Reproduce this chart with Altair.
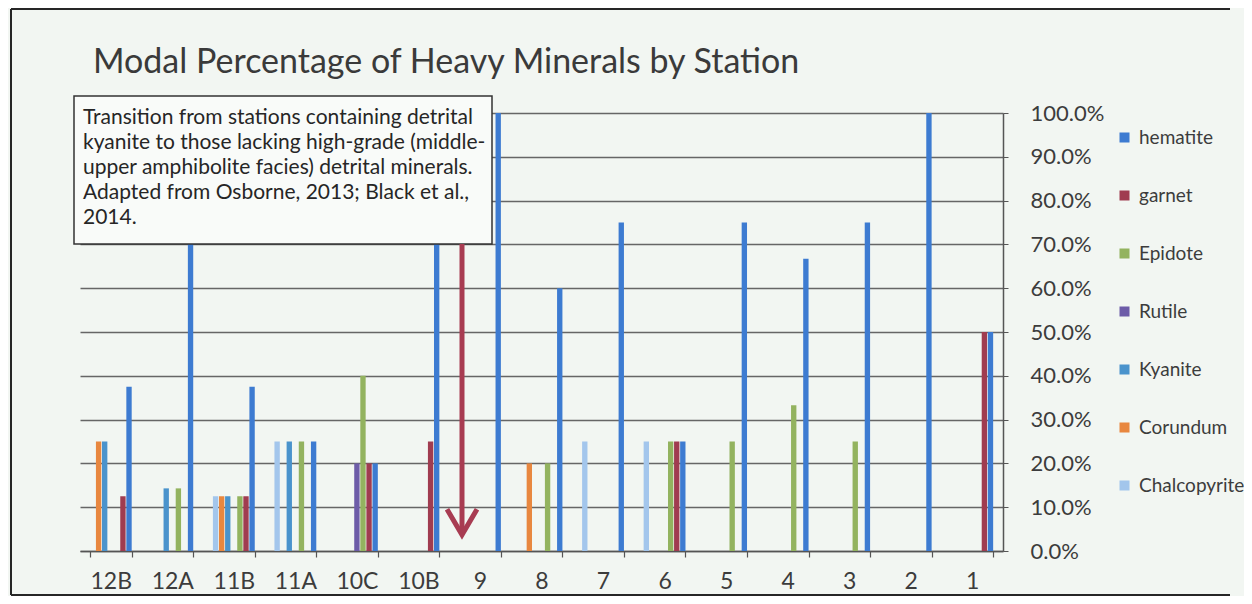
import altair as alt
import pandas as pd

stations = ["12B", "12A", "11B", "11A", "10C", "10B", "9", "8", "7", "6", "5", "4", "3", "2", "1"]
minerals = ["hematite", "garnet", "Epidote", "Rutile", "Kyanite", "Corundum", "Chalcopyrite"]
colors = ["#3d7bd1", "#a03c50", "#93b35f", "#6d5ca8", "#4a93cc", "#e8873f", "#a3c6ec"]

# modal percentage per station (same order as `stations`)
hematite = [37.5, 71.4, 37.5, 25, 20, 75, 100, 60, 75, 25, 75, 66.7, 75, 100, 50]
garnet = [12.5, 0, 12.5, 0, 20, 25, 0, 0, 0, 25, 0, 0, 0, 0, 50]
epidote = [0, 14.3, 12.5, 25, 40, 0, 0, 20, 0, 25, 25, 33.3, 25, 0, 0]
rutile = [0, 0, 0, 0, 20, 0, 0, 0, 0, 0, 0, 0, 0, 0, 0]
kyanite = [25, 14.3, 12.5, 25, 0, 0, 0, 0, 0, 0, 0, 0, 0, 0, 0]
corundum = [25, 0, 12.5, 0, 0, 0, 0, 20, 0, 0, 0, 0, 0, 0, 0]
chalcopyrite = [0, 0, 12.5, 25, 0, 0, 0, 0, 25, 25, 0, 0, 0, 0, 0]

series = [hematite, garnet, epidote, rutile, kyanite, corundum, chalcopyrite]
y_ticks = [i / 10 for i in range(11)]

title_text = "Modal Percentage of Heavy Minerals by Station"
note_lines = [
    "Transition from stations containing detrital",
    "kyanite to those lacking high-grade (middle-",
    "upper amphibolite facies) detrital minerals.",
    "Adapted from Osborne, 2013; Black et al.,",
    "2014.",
]

rows = []
for m, vals in zip(minerals, series):
    for s, v in zip(stations, vals):
        if v > 0:
            rows.append({"station": s, "mineral": m, "value": v / 100})
df = pd.DataFrame(rows)

W, H = 923, 438
FONT = "Lato"
TXT = "#3c3c3c"

bars = alt.Chart(df).mark_bar().encode(
    x=alt.X(
        "station:N",
        sort=stations,
        scale=alt.Scale(paddingInner=0.32, paddingOuter=0.16),
        axis=alt.Axis(
            title=None, labelAngle=0, labelFont=FONT, labelFontSize=23, labelColor=TXT,
            labelPadding=13, tickBand="extent", tickSize=6, tickColor="#555555",
            domainColor="#555555", domainWidth=1.5, tickWidth=1.2, grid=False,
        ),
    ),
    xOffset=alt.XOffset("mineral:N", sort=minerals[::-1], scale=alt.Scale(paddingInner=0.12)),
    y=alt.Y(
        "value:Q",
        scale=alt.Scale(domain=[0, 1], nice=False),
        axis=alt.Axis(
            orient="right", title=None, values=y_ticks, format=".1%",
            labelFont=FONT, labelFontSize=22, labelColor=TXT, labelAlign="left",
            labelPadding=22, tickSize=5, tickColor="#555555", domainColor="#555555",
            domainWidth=1.5, gridColor="#666666", gridWidth=1.3,
        ),
    ),
    color=alt.Color(
        "mineral:N",
        sort=minerals,
        scale=alt.Scale(domain=minerals, range=colors),
        legend=alt.Legend(
            title=None, orient="none", legendX=1035, legendY=15, symbolType="square",
            symbolSize=100, symbolStrokeWidth=0, labelFont=FONT, labelFontSize=19,
            labelColor=TXT, rowPadding=38, labelOffset=5, padding=0, labelLimit=200,
        ),
    ),
)

one = pd.DataFrame({"k": [0]})

title = alt.Chart(one).mark_text(
    text=title_text, align="left", baseline="alphabetic", font=FONT, fontSize=34,
    color="#3a3a3a"
).encode(x=alt.value(13), y=alt.value(-40))

note_box = alt.Chart(one).mark_rect(
    fill="#f9fbf9", stroke="#333333", strokeWidth=1.5
).encode(x=alt.value(-6), x2=alt.value(412), y=alt.value(-17), y2=alt.value(131))

note_text = alt.Chart(one).mark_text(
    text=note_lines, align="left", baseline="middle", font=FONT, fontSize=21,
    lineHeight=25, color="#262626"
).encode(x=alt.value(3), y=alt.value(5))

arrow_shaft = alt.Chart(one).mark_rule(color="#a83c52", strokeWidth=5).encode(
    x=alt.value(382), y=alt.value(131), y2=alt.value(420)
)
arrow_head = alt.Chart(one).mark_point(
    shape="M-1,-0.85L0,0.85L1,-0.85", size=900, filled=False, stroke="#a83c52",
    strokeWidth=5, opacity=1
).encode(x=alt.value(382), y=alt.value(409))

frame_left = alt.Chart(one).mark_rule(color="#262626", strokeWidth=2).encode(
    x=alt.value(-69), y=alt.value(-104), y2=alt.value(482)
)
frame_top = alt.Chart(one).mark_rule(color="#262626", strokeWidth=2).encode(
    x=alt.value(-69), x2=alt.value(1150), y=alt.value(-104)
)
frame_bottom = alt.Chart(one).mark_rule(color="#262626", strokeWidth=2).encode(
    x=alt.value(-69), x2=alt.value(1150), y=alt.value(482)
)

chart = alt.layer(
    bars, title, note_box, note_text, arrow_shaft, arrow_head,
    frame_left, frame_top, frame_bottom,
).properties(
    width=W,
    height=H,
    autosize=alt.AutoSizeParams(type="none"),
    padding={"left": 72, "top": 105, "right": 241, "bottom": 45},
    background="#f2f6f2",
).configure_view(stroke=None)

chart.save("out.html", embed_options={"renderer": "svg", "actions": False})
